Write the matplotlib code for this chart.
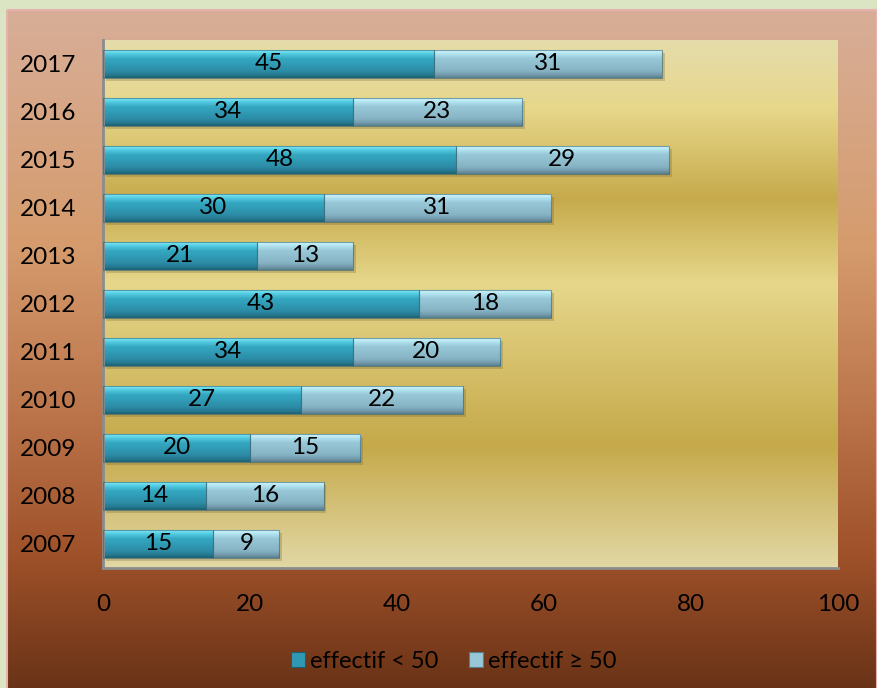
""" Entreprises par année et par taille d'effectif, barres empilées. """

###########
# Imports #
###########
import numpy as np
import matplotlib.pyplot as plt
from matplotlib.colors import LinearSegmentedColormap
from matplotlib.patches import Rectangle, Patch


########
# Data #
########
years = ['2007', '2008', '2009', '2010', '2011', '2012',
         '2013', '2014', '2015', '2016', '2017']
small = [15, 14, 20, 27, 34, 43, 21, 30, 48, 34, 45]   # effectif < 50
large = [9, 16, 15, 22, 20, 18, 13, 31, 29, 23, 31]    # effectif >= 50
series_names = ['effectif < 50', 'effectif \u2265 50']
x_ticks = [0, 20, 40, 60, 80, 100]


##########
# Colors #
##########
FONT = 'Lato'
W, H = 877, 688

def vgrad(stops, n=256):
    """ Vertical gradient image (n x 1 x 3) from (pos, color) stops, top first. """
    cmap = LinearSegmentedColormap.from_list('g', stops)
    return cmap(np.linspace(0, 1, n))[:, None, :3]

outer_stops = [(0.0, '#d8ae98'), (0.35, '#d59b6c'), (0.6, '#bb744a'),
               (0.8, '#a0522a'), (1.0, '#6a3317')]
plot_stops = [(0.0, '#e5dcab'), (0.13, '#e7d78a'), (0.30, '#c6aa4c'),
              (0.46, '#e6d78b'), (0.77, '#c5a94a'), (1.0, '#e2d8a5')]
teal_stops = [(0.0, '#86ecf8'), (0.12, '#55cde3'), (0.3, '#35a8c2'),
              (0.75, '#2c8ca6'), (0.9, '#25788f'), (1.0, '#1d5f72')]
pale_stops = [(0.0, '#d6f9fe'), (0.12, '#b2e4f0'), (0.3, '#98c8d8'),
              (0.75, '#86b3c4'), (0.9, '#7199aa'), (1.0, '#587e8d')]


##########
# Figure #
##########
fig = plt.figure(figsize=(W / 100, H / 100), dpi=100)
fig.patch.set_facecolor('#dbe4c3')

# Background in pixel coordinates
bg = fig.add_axes([0, 0, 1, 1])
bg.imshow(vgrad(outer_stops), extent=[7, W, H, 10], aspect='auto',
          interpolation='bicubic')
bg.add_patch(Rectangle((7, 10), W - 7, H + 5, fill=False,
                       edgecolor='#e6b2ad', lw=1.5))
bg.set_xlim(0, W)
bg.set_ylim(H, 0)
bg.axis('off')

# Plot area
px0, px1, py0, py1 = 103, 838, 40, 568
ax = fig.add_axes([px0 / W, 1 - py1 / H, (px1 - px0) / W, (py1 - py0) / H])
ax.patch.set_alpha(0)

ypos = np.arange(len(years))
bh = 0.58
ax.imshow(vgrad(plot_stops), extent=[0, 100, -0.5, len(years) - 0.5],
          aspect='auto', interpolation='bicubic', zorder=0)

img_teal = vgrad(teal_stops, 64)
img_pale = vgrad(pale_stops, 64)

for y, a, b in zip(ypos, small, large):
    # shadow
    ax.add_patch(Rectangle((0.4, y - bh / 2 - 0.07), a + b, bh,
                           facecolor='#6b5a30', alpha=0.25, lw=0, zorder=1))
    for left, w, img in ((0, a, img_teal), (a, b, img_pale)):
        ax.imshow(img, extent=[left, left + w, y - bh / 2, y + bh / 2],
                  aspect='auto', interpolation='bicubic', zorder=2)
        ax.add_patch(Rectangle((left, y - bh / 2), w, bh, fill=False,
                               edgecolor='#2f6576', lw=0.8, alpha=0.6, zorder=3))
        ax.text(left + w / 2, y, str(w), ha='center', va='center',
                fontsize=17.5, family=FONT, color='black', zorder=4)

ax.set_xlim(0, 100)
ax.set_ylim(-0.5, len(years) - 0.5)
ax.set_yticks(ypos)
ax.set_yticklabels(years)
ax.set_xticks(x_ticks)
ax.tick_params(length=0, labelsize=17.5)
ax.tick_params(axis='x', pad=19)
ax.tick_params(axis='y', pad=19)
for lab in ax.get_xticklabels() + ax.get_yticklabels():
    lab.set_family(FONT)
for side in ('top', 'right'):
    ax.spines[side].set_visible(False)
for side in ('left', 'bottom'):
    ax.spines[side].set_color('#8c8c8c')
    ax.spines[side].set_linewidth(2)

# Legend
handles = [Patch(facecolor='#2f98b3', edgecolor='#1d5f72', lw=0.8),
           Patch(facecolor='#98c8d8', edgecolor='#587e8d', lw=0.8)]
fig.legend(handles, series_names, loc='center',
           bbox_to_anchor=(454 / W, 1 - 661 / H), ncol=2, frameon=False,
           handlelength=0.6, handleheight=0.6, handletextpad=0.2,
           columnspacing=1.3, prop={'family': FONT, 'size': 17})

fig.savefig('out.png', dpi=100)
